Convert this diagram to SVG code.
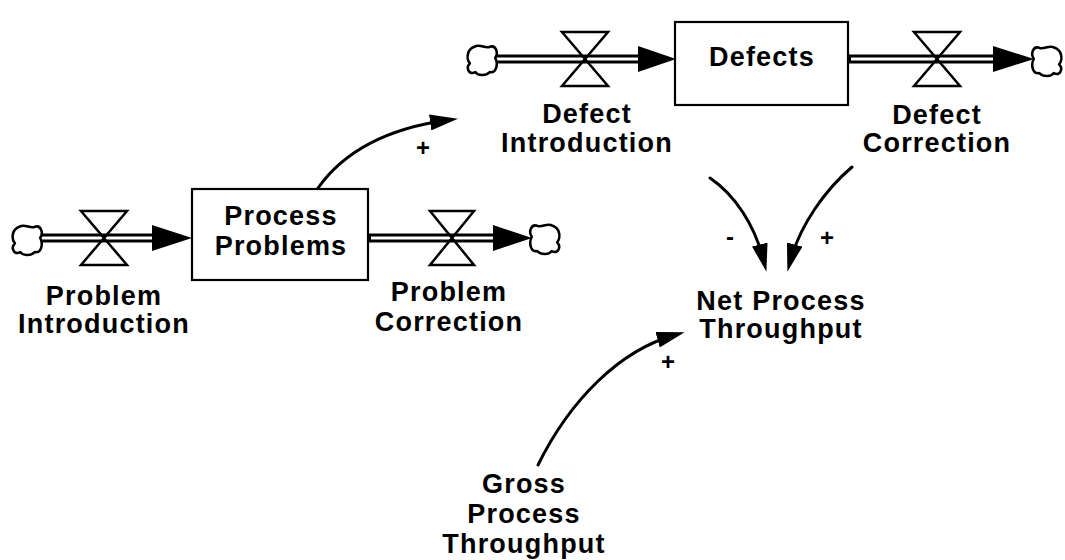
<svg xmlns="http://www.w3.org/2000/svg" width="1065" height="560" viewBox="0 0 1065 560">
<style>
  .lbl { font-family: "Liberation Sans", Arial, sans-serif; font-weight: bold; font-size: 27px; letter-spacing: 1.2px; fill: #000; text-anchor: middle; }
  .sign { font-family: "Liberation Sans", Arial, sans-serif; font-weight: bold; font-size: 24px; fill: #000; text-anchor: middle; }
  .stock { fill: #fff; stroke: #000; stroke-width: 2.2; }
  .valve { fill: none; stroke: #000; stroke-width: 2.5; stroke-linejoin: miter; }
  .cloud { fill: #fff; stroke: #000; stroke-width: 2.3; stroke-linejoin: round; }
  .pipeOuter { stroke: #000; stroke-width: 9; fill: none; }
  .pipeInner { stroke: #fff; stroke-width: 3; fill: none; }
  .head { fill: #000; stroke: none; }
  .link { fill: none; stroke: #000; stroke-width: 3; stroke-linecap: round; }
</style>
<defs>
  <marker id="arr" viewBox="0 0 28 16" refX="18" refY="8" markerWidth="28" markerHeight="16" markerUnits="userSpaceOnUse" orient="auto">
    <path d="M0,0 L28,8 L0,16 Z" fill="#000"/>
  </marker>
  <path id="cloudShape" d="M -7,-12 C -2,-15 3,-10 7,-12 C 13,-14 15,-6 12,-2 C 15,4 13,12 7,11 C 3,15 -4,14 -6,11 C -12,14 -15,7 -11,3 C -15,-2 -13,-10 -7,-12 Z"/>
</defs>
<rect width="1065" height="560" fill="#fff"/>

<g id="connectors">
  <path class="pipeOuter" d="M40,238 H154"/>
  <path class="pipeInner" d="M38,238 H152"/>
  <polygon class="head" points="152,225 192,238 152,251"/>

  <path class="pipeOuter" d="M369,238 H495"/>
  <path class="pipeInner" d="M371,238 H493"/>
  <polygon class="head" points="493,225 532,238 493,251"/>

  <path class="pipeOuter" d="M495,59 H640"/>
  <path class="pipeInner" d="M493,59 H638"/>
  <polygon class="head" points="638,46 676,59 638,72"/>

  <path class="pipeOuter" d="M849,59 H995"/>
  <path class="pipeInner" d="M851,59 H993"/>
  <polygon class="head" points="993,46 1034,59 993,72"/>

  <path class="link" marker-end="url(#arr)" d="M318,188 C345,150 390,128 448,120"/>
  <path class="link" marker-end="url(#arr)" d="M710,178 C735,195 755,225 764,262"/>
  <path class="link" marker-end="url(#arr)" d="M852,167 C825,190 800,225 790,262"/>
  <path class="link" marker-end="url(#arr)" d="M538,465 C570,400 620,350 675,335"/>

  <text class="sign" x="423" y="156">+</text>
  <text class="sign" x="730" y="245">-</text>
  <text class="sign" x="827" y="246">+</text>
  <text class="sign" x="668" y="370">+</text>
</g>

<g id="cloud-problem-source"><use href="#cloudShape" class="cloud" transform="translate(27,240) scale(1.1)"/></g>
<g id="cloud-problem-sink"><use href="#cloudShape" class="cloud" transform="translate(545,239) scale(-1.1,1.1)"/></g>
<g id="cloud-defect-source"><use href="#cloudShape" class="cloud" transform="translate(482,60) scale(1.1)"/></g>
<g id="cloud-defect-sink"><use href="#cloudShape" class="cloud" transform="translate(1047,61) scale(-1.1,1.1)"/></g>

<g id="process-problems">
  <rect class="stock" x="192" y="189" width="176" height="91"/>
  <text class="lbl" x="281" y="225">Process</text>
  <text class="lbl" x="281" y="255">Problems</text>
</g>

<g id="defects">
  <rect class="stock" x="675" y="22" width="173" height="83"/>
  <text class="lbl" x="762" y="66">Defects</text>
</g>

<g id="problem-introduction">
  <path class="valve" d="M81,211 H127 L81,265 H127 Z"/>
  <text class="lbl" x="104" y="305">Problem</text>
  <text class="lbl" x="104" y="333">Introduction</text>
</g>

<g id="problem-correction">
  <path class="valve" d="M430,211 H474 L430,265 H474 Z"/>
  <text class="lbl" x="449" y="301">Problem</text>
  <text class="lbl" x="449" y="331">Correction</text>
</g>

<g id="defect-introduction">
  <path class="valve" d="M562,32 H608 L562,86 H608 Z"/>
  <text class="lbl" x="587" y="123">Defect</text>
  <text class="lbl" x="587" y="152">Introduction</text>
</g>

<g id="defect-correction">
  <path class="valve" d="M914,32 H960 L914,86 H960 Z"/>
  <text class="lbl" x="937" y="124">Defect</text>
  <text class="lbl" x="937" y="152">Correction</text>
</g>

<g id="net-process-throughput">
  <text class="lbl" x="781" y="310">Net Process</text>
  <text class="lbl" x="781" y="338">Throughput</text>
</g>

<g id="gross-process-throughput">
  <text class="lbl" x="524" y="493">Gross</text>
  <text class="lbl" x="524" y="523">Process</text>
  <text class="lbl" x="524" y="553">Throughput</text>
</g>
</svg>
